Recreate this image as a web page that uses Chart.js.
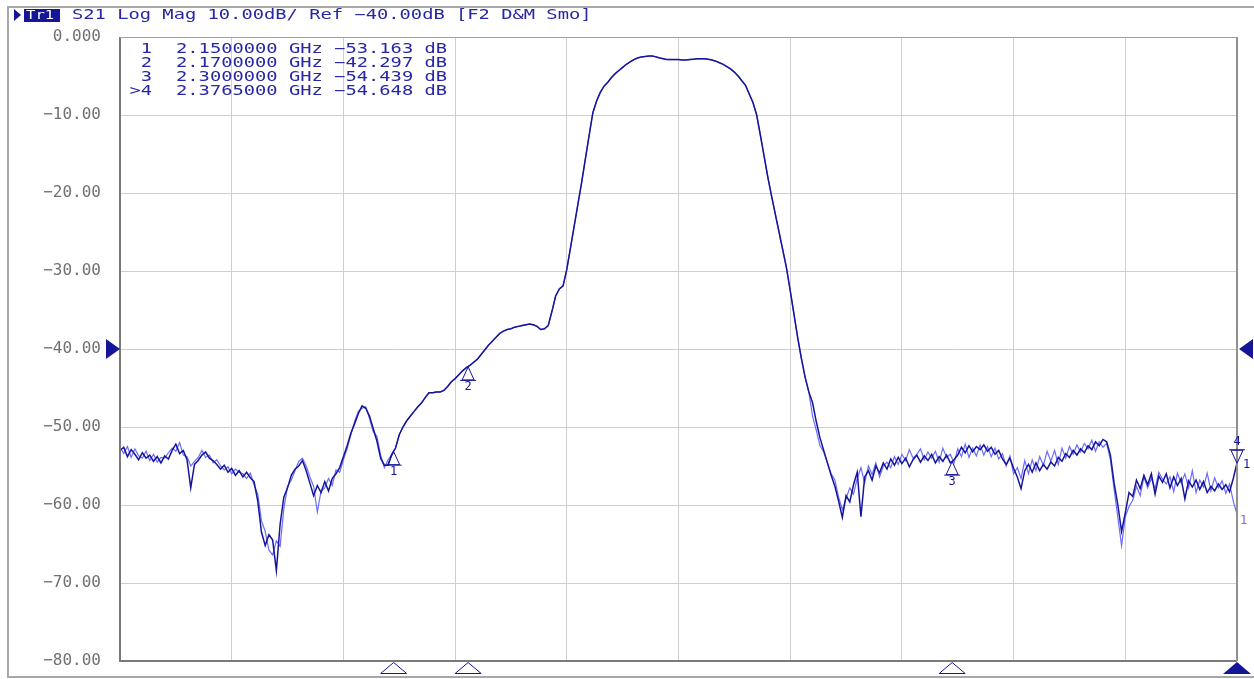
<!DOCTYPE html>
<html>
<head>
<meta charset="utf-8">
<script src="https://cdn.jsdelivr.net/npm/chart.js@4.4.1/dist/chart.umd.min.js"></script>
<style>
  html, body { margin: 0; padding: 0; background: #ffffff; }
  #wrap { width: 1254px; height: 679px; position: relative; }
  canvas { display: block; }
</style>
</head>
<body>
<div id="wrap"><canvas id="c" width="1254" height="679"></canvas></div>
<script>
// ---- Sweep (stimulus) ----
const startGHz = 2.0765;
const stopGHz = 2.3765;
const stepGHz = 0.001;
const divisionsX = 10;

// ---- Y axis ----
const yMin = -80;
const yMax = 0;
const yStep = 10;
const refLevelDb = -40;

// ---- Title / header ----
const traceName = 'Tr1';
const headerText = 'S21 Log Mag 10.00dB/ Ref \u221240.00dB [F2 D&M Smo]';

// ---- Markers ----
const markerLabels = ['1', '2', '3', '>4'];
const markerFreqGHz = [2.15, 2.17, 2.30, 2.3765];
const markerDb = [-53.163, -42.297, -54.439, -54.648];
const activeMarker = 3;

// ---- S21 data trace (dB), one value per 1 MHz step ----
const s21Db = [
  -53.0, -52.6, -53.8, -52.9, -53.5, -54.2, -53.3, -54.0, -53.6, -54.4,
  -53.8, -54.6, -53.7, -54.1, -53.0, -52.2, -53.4, -53.0, -54.2, -57.8,
  -54.8, -54.3, -53.6, -53.2, -54.0, -54.3, -54.8, -55.4, -54.9, -55.8,
  -55.3, -56.2, -55.6, -56.4, -55.8, -56.5, -57.0, -59.5, -63.5, -65.2,
  -63.8, -64.5, -68.4, -62.5, -59.0, -57.8, -56.2, -55.4, -55.0, -54.3,
  -55.6, -57.2, -58.8, -57.5, -58.4, -57.0, -58.2, -56.6, -56.0, -55.2,
  -53.8, -52.4, -50.8, -49.6, -48.3, -47.3, -47.6, -48.6, -50.2, -51.8,
  -54.0, -54.9, -54.9, -53.5, -52.7, -51.0, -50.0, -49.2, -48.6, -48.0,
  -47.4, -46.9, -46.2, -45.6, -45.6, -45.5, -45.5, -45.3, -44.8, -44.2,
  -43.8, -43.3, -42.8, -42.4, -42.1, -41.7, -41.3, -40.7, -40.1, -39.5,
  -39.0, -38.5, -38.0, -37.7, -37.5, -37.4, -37.2, -37.1, -37.0, -36.9,
  -36.8, -36.9, -37.1, -37.5, -37.4, -37.0, -35.2, -33.2, -32.3, -31.9,
  -29.8, -27.0, -24.2, -21.4, -18.6, -15.6, -12.6, -9.7, -8.2, -7.1,
  -6.3, -5.8, -5.2, -4.7, -4.3, -3.9, -3.5, -3.2, -2.9, -2.7,
  -2.55, -2.5, -2.45, -2.45, -2.55, -2.7, -2.8, -2.9, -2.9, -2.9,
  -2.9, -2.95, -2.95, -2.9, -2.85, -2.8, -2.8, -2.8, -2.85, -2.95,
  -3.1, -3.3, -3.5, -3.8, -4.1, -4.5, -5.0, -5.6, -6.2, -7.3,
  -8.4, -10.0, -12.6, -15.3, -18.0, -20.4, -22.7, -25.0, -27.3, -29.6,
  -32.5, -35.5, -38.5, -41.2, -43.6, -45.5, -46.9, -49.3, -51.4, -53.0,
  -54.6, -56.2, -57.6, -59.5, -61.6, -58.8, -59.6, -57.4, -55.8, -61.5,
  -56.4, -55.6, -56.8, -55.0, -55.9, -54.6, -55.4, -54.1, -54.9, -53.9,
  -54.7, -54.0, -55.1, -54.2, -53.6, -54.5, -53.7, -54.3, -53.5, -54.6,
  -53.8, -54.4, -53.6, -54.6, -54.2, -53.6, -52.6, -53.3, -52.4, -53.2,
  -52.5, -52.9, -52.3, -53.1, -52.6, -53.5, -53.0, -54.1, -54.8, -54.0,
  -55.3, -56.4, -57.9, -55.6, -54.8, -55.8, -54.6, -55.6, -54.8, -55.4,
  -54.5, -55.0, -53.9, -54.4, -53.4, -53.9, -53.0, -53.6, -52.8, -53.3,
  -52.4, -52.9, -51.9, -52.4, -51.6, -51.9, -53.6, -57.2, -60.0, -63.4,
  -61.0, -58.4, -58.9, -56.8, -57.9, -56.2, -57.4, -56.0, -58.6, -56.3,
  -57.1, -56.0, -57.8, -56.4, -57.5, -56.6, -59.2, -56.9, -57.7, -56.8,
  -58.0, -57.0, -58.4, -57.6, -58.2, -57.3, -58.0, -57.4, -58.3, -56.6,
  -54.6
];

// ---- Memory trace (dB), one value per 1 MHz step ----
const memDb = [
  -52.6, -53.4, -52.5, -53.9, -52.8, -53.7, -54.0, -53.1, -54.3, -53.5,
  -54.5, -53.9, -54.0, -53.3, -52.7, -53.1, -52.0, -53.6, -53.8, -55.0,
  -54.4, -53.9, -53.0, -53.9, -53.6, -54.6, -54.2, -55.0, -55.5, -55.1,
  -56.0, -55.4, -55.8, -56.0, -56.6, -55.9, -57.4, -58.6, -62.0, -63.4,
  -65.8, -66.4, -64.6, -65.3, -60.5, -57.6, -56.8, -55.6, -54.4, -54.0,
  -55.0, -56.4, -57.6, -60.9, -58.2, -57.8, -56.6, -57.5, -55.5, -55.8,
  -54.2, -52.8, -51.0, -49.3, -48.0, -47.6, -47.4, -48.9, -50.6, -51.2,
  -53.6, -55.2, -54.2,
  -53.5, -52.7, -51.0, -50.0, -49.2, -48.6, -48.0,
  -47.4, -46.9, -46.2, -45.6, -45.6, -45.5, -45.5, -45.3, -44.8, -44.2,
  -43.8, -43.3, -42.8, -42.4, -42.1, -41.7, -41.3, -40.7, -40.1, -39.5,
  -39.0, -38.5, -38.0, -37.7, -37.5, -37.4, -37.2, -37.1, -37.0, -36.9,
  -36.8, -36.9, -37.1, -37.5, -37.4, -37.0, -35.2, -33.2, -32.3, -31.9,
  -29.8, -27.0, -24.2, -21.4, -18.6, -15.6, -12.6, -9.7, -8.2, -7.1,
  -6.3, -5.8, -5.2, -4.7, -4.3, -3.9, -3.5, -3.2, -2.9, -2.7,
  -2.55, -2.5, -2.45, -2.45, -2.55, -2.7, -2.8, -2.9, -2.9, -2.9,
  -2.9, -2.95, -2.95, -2.9, -2.85, -2.8, -2.8, -2.8, -2.85, -2.95,
  -3.1, -3.3, -3.5, -3.8, -4.1, -4.5, -5.0, -5.6, -6.2, -7.3,
  -8.4, -10.0, -12.6, -15.3, -18.0, -20.4, -22.7, -25.0, -27.3, -29.6,
  -32.5, -35.5, -38.5, -41.2, -43.6, -45.5,
  -48.6, -50.4, -52.4, -53.2, -54.6, -56.0, -56.8, -59.0, -60.6, -59.2,
  -57.8, -58.6, -56.6, -55.2, -57.2, -55.0, -56.1, -54.6, -56.4, -55.0,
  -54.5, -55.2, -53.8, -54.8, -53.5, -54.3, -52.9, -54.0, -53.5, -52.8,
  -54.2, -53.2, -54.0, -53.1, -54.5, -52.7, -53.9, -53.5, -54.6, -52.8,
  -53.8, -52.2, -53.9, -52.7, -53.7, -52.3, -53.6, -52.5, -53.8, -52.7,
  -54.1, -53.4, -55.0, -53.7, -56.0, -55.2, -56.6, -54.3, -56.0, -54.2,
  -55.6, -53.8, -54.9, -53.1, -54.4, -53.0, -54.8, -52.7, -54.0, -52.5,
  -53.5, -52.3, -53.2, -52.1, -52.8, -51.7, -53.1, -51.9, -52.6, -52.1,
  -54.2, -58.0, -61.6, -65.2, -61.5, -60.2, -59.4, -57.6, -58.8, -56.4,
  -57.8, -56.6, -57.9, -55.8, -56.7, -57.3, -56.4, -58.3, -55.9, -57.2,
  -56.0, -57.8, -55.6, -58.4, -56.8, -57.7, -55.9, -58.2, -56.5, -57.8,
  -56.9, -58.5, -57.3, -59.5, -61.2
];

// ---- Colours ----
const NAVY = '#15159a';
const MEM = '#6b6bff';
const TEXT_BLUE = '#2626a6';
const GRID = '#cfcfcf';
const LABEL_GREY = '#707070';

// Build point lists from the sweep grid
const freqs = s21Db.map((_, i) => startGHz + i * stepGHz);
const dataPts = s21Db.map((v, i) => ({ x: freqs[i], y: v }));
const memPts = memDb.map((v, i) => ({ x: freqs[i], y: v }));
const xGridVals = [];
for (let k = 0; k <= divisionsX; k++) xGridVals.push(startGHz + (stopGHz - startGHz) * k / divisionsX);

const MONO = '"DejaVu Sans Mono", "Liberation Mono", monospace';

function wideText(ctx, str, x, y, sx, align, color, font) {
  ctx.save();
  ctx.font = font || ('14px ' + MONO);
  ctx.fillStyle = color;
  ctx.textBaseline = 'middle';
  ctx.translate(x, y);
  ctx.scale(sx, 1);
  ctx.textAlign = align || 'left';
  ctx.fillText(str, 0, 0);
  ctx.restore();
}

function fmtDb(v) {
  return (v < 0 ? '\u2212' : '') + Math.abs(v).toFixed(3);
}

const overlay = {
  id: 'overlay',
  beforeDraw(chart) {
    const ctx = chart.ctx;
    ctx.save();
    ctx.fillStyle = '#ffffff';
    ctx.fillRect(0, 0, chart.width, chart.height);
    ctx.restore();
  },
  afterDraw(chart) {
    const ctx = chart.ctx;
    const xs = chart.scales.x, ys = chart.scales.y;
    const a = chart.chartArea;

    ctx.save();
    // outer frame
    ctx.strokeStyle = '#a8a8a8';
    ctx.lineWidth = 2;
    ctx.beginPath();
    ctx.moveTo(8, 678); ctx.lineTo(8, 7); ctx.lineTo(1254, 7);
    ctx.moveTo(8, 677); ctx.lineTo(1254, 677);
    ctx.stroke();

    // plot frame
    ctx.strokeStyle = '#7a7a7a';
    ctx.lineWidth = 2;
    ctx.beginPath();
    ctx.moveTo(a.left, a.top); ctx.lineTo(a.left, a.bottom); ctx.lineTo(a.right, a.bottom);
    ctx.stroke();
    ctx.strokeStyle = '#909090';
    ctx.beginPath();
    ctx.moveTo(a.right, a.top); ctx.lineTo(a.right, a.bottom);
    ctx.stroke();
    ctx.strokeStyle = '#a0a0a0';
    ctx.lineWidth = 1;
    ctx.beginPath();
    ctx.moveTo(a.left, a.top + 0.5); ctx.lineTo(a.right, a.top + 0.5);
    ctx.stroke();

    // header
    ctx.fillStyle = NAVY;
    ctx.beginPath();
    ctx.moveTo(14, 9); ctx.lineTo(21, 15); ctx.lineTo(14, 21); ctx.closePath();
    ctx.fill();
    ctx.fillRect(24, 9, 36, 13);
    wideText(ctx, traceName, 26, 15.5, 1.2, 'left', '#ffffff', '13px ' + MONO);
    wideText(ctx, headerText, 72, 15.5, 1.34, 'left', TEXT_BLUE);

    // marker readout
    const rowY = [49, 63, 77, 91];
    markerLabels.forEach((lab, i) => {
      wideText(ctx, lab, 152, rowY[i], 1.34, 'right', TEXT_BLUE);
      const s = markerFreqGHz[i].toFixed(7) + ' GHz ' + fmtDb(markerDb[i]) + ' dB';
      wideText(ctx, s, 176, rowY[i], 1.34, 'left', TEXT_BLUE);
    });

    // reference level triangles
    const ry = ys.getPixelForValue(refLevelDb);
    ctx.fillStyle = NAVY;
    ctx.beginPath();
    ctx.moveTo(106, ry - 10); ctx.lineTo(120, ry); ctx.lineTo(106, ry + 10); ctx.closePath();
    ctx.fill();
    ctx.beginPath();
    ctx.moveTo(1253, ry - 10); ctx.lineTo(1239, ry); ctx.lineTo(1253, ry + 10); ctx.closePath();
    ctx.fill();

    // markers on trace and stimulus triangles
    ctx.lineWidth = 1;
    markerFreqGHz.forEach((f, i) => {
      const px = xs.getPixelForValue(f);
      const py = ys.getPixelForValue(markerDb[i]);
      const num = markerLabels[i].replace('>', '');
      ctx.strokeStyle = NAVY;
      if (i === activeMarker) {
        ctx.beginPath();
        ctx.moveTo(px, py); ctx.lineTo(px - 6, py - 13); ctx.lineTo(px + 6, py - 13); ctx.closePath();
        ctx.stroke();
        ctx.beginPath(); ctx.moveTo(px - 8, py - 13.5); ctx.lineTo(px + 8, py - 13.5); ctx.stroke();
        wideText(ctx, num, px, py - 21, 1.0, 'center', NAVY, '12px ' + MONO);
        wideText(ctx, '1', px + 6, py + 2, 1.0, 'left', NAVY, '12px ' + MONO);
        // filled stimulus triangle
        ctx.fillStyle = NAVY;
        ctx.beginPath();
        ctx.moveTo(px, a.bottom + 1); ctx.lineTo(px + 14, a.bottom + 13); ctx.lineTo(px - 14, a.bottom + 13); ctx.closePath();
        ctx.fill();
      } else {
        ctx.beginPath();
        ctx.moveTo(px, py); ctx.lineTo(px + 6, py + 13); ctx.lineTo(px - 6, py + 13); ctx.closePath();
        ctx.stroke();
        ctx.beginPath(); ctx.moveTo(px - 8, py + 13.5); ctx.lineTo(px + 8, py + 13.5); ctx.stroke();
        wideText(ctx, num, px, py + 20, 1.0, 'center', NAVY, '12px ' + MONO);
        ctx.beginPath();
        ctx.moveTo(px, a.bottom + 1.5); ctx.lineTo(px + 13, a.bottom + 12.5); ctx.lineTo(px - 13, a.bottom + 12.5); ctx.closePath();
        ctx.stroke();
      }
    });

    // memory trace end label
    const memEndY = ys.getPixelForValue(memDb[memDb.length - 1]);
    wideText(ctx, '1', a.right + 3, memEndY + 7, 1.0, 'left', MEM, '12px ' + MONO);
    ctx.restore();
  }
};

new Chart(document.getElementById('c'), {
  type: 'line',
  data: {
    datasets: [
      { label: 'S21', data: dataPts, borderColor: NAVY, borderWidth: 1.5, pointRadius: 0, tension: 0, fill: false },
      { label: 'Memory', data: memPts, borderColor: MEM, borderWidth: 1.2, pointRadius: 0, tension: 0, fill: false }
    ]
  },
  options: {
    responsive: false,
    animation: false,
    events: [],
    layout: { padding: { left: 8, top: 37, right: 17, bottom: 18 } },
    plugins: { legend: { display: false }, tooltip: { enabled: false }, title: { display: false } },
    scales: {
      x: {
        type: 'linear', min: startGHz, max: stopGHz,
        ticks: { display: false },
        grid: { color: GRID, lineWidth: 1, drawTicks: false },
        border: { display: false },
        afterBuildTicks: (s) => { s.ticks = xGridVals.map(v => ({ value: v })); },
        afterFit: (s) => { s.height = 0; s.paddingLeft = 0; s.paddingRight = 0; }
      },
      y: {
        min: yMin, max: yMax,
        ticks: {
          stepSize: yStep,
          padding: 19,
          color: LABEL_GREY,
          font: { family: MONO, size: 16 },
          callback: (v) => v === 0 ? '0.000' : (v < 0 ? '\u2212' : '') + Math.abs(v).toFixed(2)
        },
        grid: { color: GRID, lineWidth: 1, drawTicks: false },
        border: { display: false },
        afterFit: (s) => { s.width = 112; s.paddingTop = 0; s.paddingBottom = 0; }
      }
    }
  },
  plugins: [overlay]
});
</script>
</body>
</html>
